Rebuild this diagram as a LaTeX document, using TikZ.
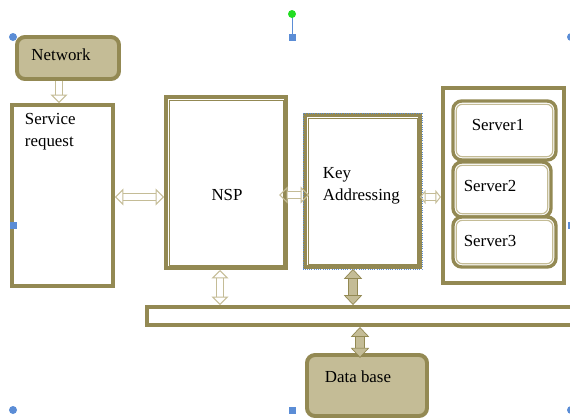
\documentclass[tikz,border=0pt]{standalone}
\usepackage{fontspec}
\setmainfont{Liberation Serif}
\usetikzlibrary{arrows.meta,calc}

\definecolor{boxline}{HTML}{938953}
\definecolor{boxfill}{HTML}{C4BC96}
\definecolor{arrowline}{HTML}{C4BC96}
\definecolor{handle}{HTML}{5B8DD6}
\definecolor{rothandle}{HTML}{22DD22}

\tikzset{
  plainbox/.style={draw=boxline, line width=2.8pt, fill=white, inner sep=0pt},
  roundbox/.style={draw=boxline, line width=2.8pt, fill=boxfill, rounded corners=0.2cm, inner sep=0pt},
  servbox/.style={draw=boxline, line width=2.4pt, fill=white, rounded corners=0.22cm, inner sep=0pt},
  innerline/.style={draw=boxline, line width=0.6pt},
  servinner/.style={draw=arrowline, line width=0.8pt, rounded corners=0.15cm},
  hollowarrow/.style={draw=arrowline, line width=0.7pt, double=white, double distance=4.5pt},
  solidarrow/.style={draw=boxline, line width=0.5pt, double=boxfill, double distance=5.5pt},
  opentip/.tip={Triangle[open, width=12pt, length=6pt]},
  smalltip/.tip={Triangle[open, width=10pt, length=4pt]},
  solidtip/.tip={Triangle[width=13pt, length=7pt, fill=boxfill]},
}

\begin{document}
\begin{tikzpicture}[x=0.025cm, y=-0.025cm, font=\fontsize{12}{16}\selectfont]
\useasboundingbox (0,0) rectangle (570,417);

% Boxes
\node[roundbox, minimum width=2.55cm, minimum height=1.05cm] (network) at (68,58) {};
\node (network-txt) at (61,55) {Network};
\node[plainbox, minimum width=2.525cm, minimum height=4.525cm] (service) at (62.5,195.5) {};
\node[anchor=north west, align=left] (service-txt) at (20,108) {Service\\request};
\node[plainbox, minimum width=3.0cm, minimum height=4.275cm] (nsp) at (226,182.5) {};
\draw[innerline] ($(nsp.north west)+(5,5)$) rectangle ($(nsp.south east)+(-5,-5)$);
\node (nsp-txt) at (227,195) {NSP};
\node[plainbox, minimum width=2.875cm, minimum height=3.8cm] (key) at (362.5,191) {};
\draw[innerline] ($(key.north west)+(5,5)$) rectangle ($(key.south east)+(-5,-5)$);
\draw[handle, line width=0.6pt, densely dotted] (key.north west) rectangle (key.south east);
\node[anchor=west, align=left] (key-txt) at (318,186) {Key\\Addressing};
\node[plainbox, minimum width=3.025cm, minimum height=4.875cm] (servers) at (503.5,185.5) {};

% Servers
\node[servbox, minimum width=2.575cm, minimum height=1.475cm] (server1) at (504.5,130.5) {};
\draw[servinner] ($(server1.north west)+(5,5)$) rectangle ($(server1.south east)+(-5,-5)$);
\node (server1-txt) at (498,125) {Server1};
\node[servbox, minimum width=2.45cm, minimum height=1.375cm] (server2) at (502,189.5) {};
\draw[servinner] ($(server2.north west)+(5,5)$) rectangle ($(server2.south east)+(-5,-5)$);
\node (server2-txt) at (490,186) {Server2};
\node[servbox, minimum width=2.575cm, minimum height=1.25cm] (server3) at (504.5,242) {};
\draw[servinner] ($(server3.north west)+(5,5)$) rectangle ($(server3.south east)+(-5,-5)$);
\node (server3-txt) at (490,241) {Server3};

% Bus and database
\node[plainbox, minimum width=11.325cm, minimum height=0.45cm] (bus) at (373.5,316) {};
\node[roundbox, minimum width=3.0cm, minimum height=1.525cm] (db) at (367,385.5) {};
\node (db-txt) at (358,377) {Data base};

% Connectors
\coordinate (keyfoot) at ($(key.south)+(-9.5,0)$);
\coordinate (dbtop) at ($(db.north)+(-7,0)$);
\draw[hollowarrow, -opentip] ($(network.south)+(-9,0)$) -- ($(service.north)+(-3.5,0)$);
\draw[hollowarrow, opentip-opentip] ($(service.east)+(0,1.5)$) -- ($(service.east -| nsp.west)+(0,1.5)$);
\draw[hollowarrow, opentip-opentip, shorten <=-0.22cm, shorten >=-0.15cm] ($(nsp.east |- key.west)+(0,4)$) -- ($(key.west)+(0,4)$);
\draw[hollowarrow, smalltip-smalltip, shorten <=-0.05cm] ($(key.east)+(0,6)$) -- ($(key.east -| servers.west)+(0,6)$);
\draw[hollowarrow, opentip-opentip] ($(nsp.south)+(-6,0)$) -- ($(nsp.south |- bus.north)+(-6,0)$);
\draw[solidarrow, solidtip-solidtip] (keyfoot) -- (keyfoot |- bus.north);
\draw[solidarrow, solidtip-solidtip, shorten >=-0.12cm] (dbtop |- bus.south) -- (dbtop);

% Selection handles
\draw[handle, line width=0.6pt] (292,14) -- (292,37);
\fill[rothandle] (292,14) circle (0.1cm);
\foreach \hx/\hy in {13/37, 571/37, 13/410, 571/410}
  \fill[handle] (\hx,\hy) circle (0.1cm);
\foreach \hx/\hy in {292/37, 13/225, 571/225, 292/410}
  \fill[handle] (\hx,\hy) +(-3.5,-3.5) rectangle +(3.5,3.5);
\end{tikzpicture}
\end{document}
